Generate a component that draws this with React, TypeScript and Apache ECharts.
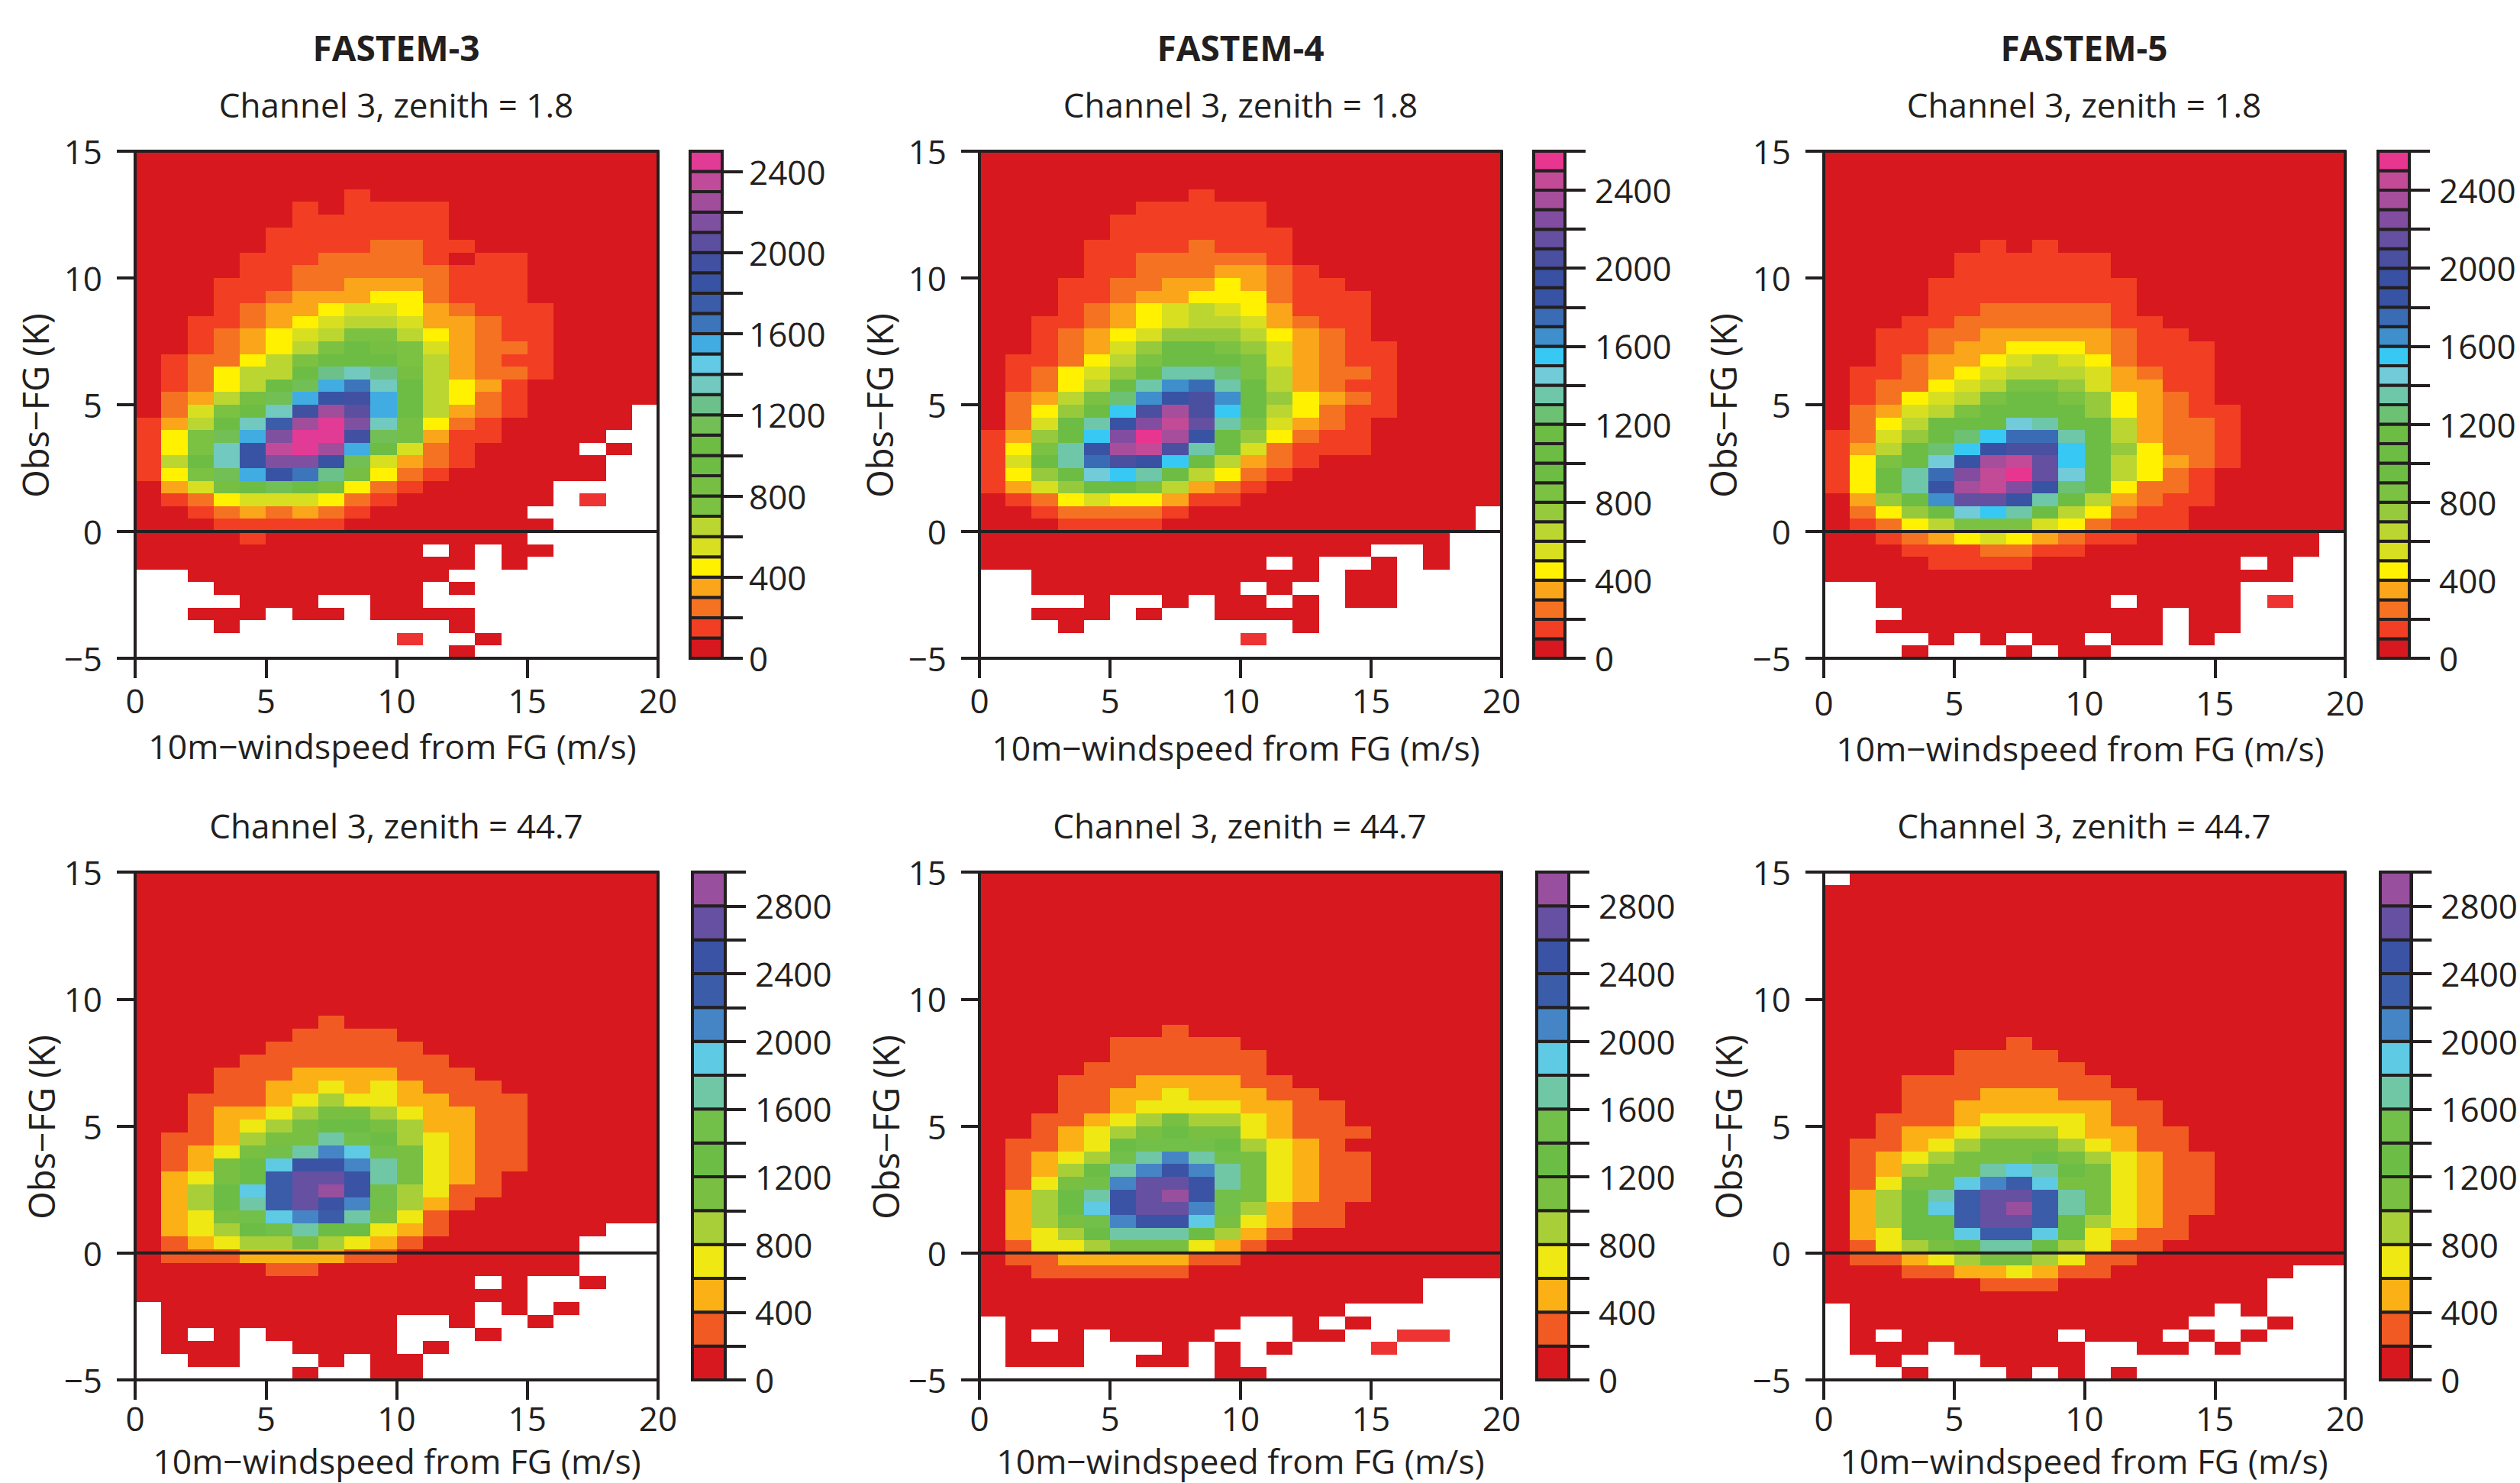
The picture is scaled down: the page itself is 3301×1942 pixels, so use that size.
import React, { useEffect, useRef } from "react";
import * as echarts from "echarts";

// Each string is one row of bins, top row first; each character is the colour class
// of one 1 m/s wide bin: 0-9 a-p are class numbers, "." is an empty bin, "x" a lone bright-red bin.
const fastem3Zenith18 = [
  "00000000000000000000",
  "00000000000000000000",
  "00000000000000000000",
  "00000000100000000000",
  "00000010111100000000",
  "00000011111100000000",
  "00000111111100000000",
  "00000111122110000000",
  "00001112222101100000",
  "00001122222211100000",
  "00011122333211100000",
  "00011233344211100000",
  "00012334554321110000",
  "00112345665332110000",
  "00123456776432110000",
  "00123467987532210000",
  "01224679997632110000",
  "0124669cdc8632210000",
  "012469bfgd9643100000",
  "02368bfijf9642100000",
  "02579djmkf963210000.",
  "1369dhmold842100000.",
  "147bfloojb83110000..",
  "147dinomf95210000.0.",
  "169dillib532100000..",
  "147bfigc8421000000..",
  "03589b9842100000....",
  "0124555421000000.x..",
  "001232321000000.....",
  "0001111100000000....",
  "000010000000000.....",
  "00000000000.0.00....",
  "0000000000000.0.....",
  "..0000000000........",
  "...00000000.0.......",
  "....000..00.........",
  "..000.00.0000.......",
  "...0........0.......",
  "..........x..0......",
  "............0.......",
];

const fastem4Zenith18 = [
  "00000000000000000000",
  "00000000000000000000",
  "00000000000000000000",
  "00000000100000000000",
  "00000011111000000000",
  "00000111111000000000",
  "00000111111100000000",
  "00001111211100000000",
  "00001122222100000000",
  "00001122233210000000",
  "00011223343211000000",
  "00011233444211100000",
  "00012345654311100000",
  "00112345665321100000",
  "00123457776432100000",
  "00123579987532110000",
  "01124689998532110000",
  "0124579ddc8632210000",
  "012469dghd9632110000",
  "02368cgikg9743210000",
  "02479fknkf9642110000",
  "0259dimold8532100000",
  "1379fmpni97421100000",
  "148dinokd95211100000",
  "159dhkjf963210000000",
  "1479efd9642100000000",
  "13579986321000000000",
  "01245443110000000000",
  "0012222100000000000.",
  "0001111000000000000.",
  "000000000000000000..",
  "000000000000000..0..",
  "00000000000.0..0.0..",
  "..00000000000.00....",
  "..00000000.0..00....",
  "....0..0.00.0.00....",
  "..000.0..0000.......",
  "...0........0.......",
  "..........x.........",
  "....................",
];

const fastem5Zenith18 = [
  "00000000000000000000",
  "00000000000000000000",
  "00000000000000000000",
  "00000000000000000000",
  "00000000000000000000",
  "00000000000000000000",
  "00000000000000000000",
  "00000010100000000000",
  "00000111111000000000",
  "00000111111000000000",
  "00001111111100000000",
  "00001111111100000000",
  "00001122222100000000",
  "00011222222110000000",
  "00112233333211000000",
  "00112334443211100000",
  "00123345654211100000",
  "01123456665321100000",
  "01224568875331100000",
  "01245689987432100000",
  "02356899997432110000",
  "0246999ed99632210000",
  "12579cfhhd9632210000",
  "1369cfjkkf9742210000",
  "1489einolf9643210000",
  "149dhmople9642100000",
  "149dinomic9422100000",
  "0379gllid96321100000",
  "02479efd964211000000",
  "01246888542111000000",
  "0012345432110000000.",
  "0001112211000000000.",
  "0000111100000000.0..",
  "000000000000000000..",
  "..00000000000000....",
  "..000000000.0000.x..",
  "...0000000000.00....",
  "..00000000000.00....",
  "....0.0.00.00.0.....",
  "...0...0.00.........",
];

const fastem3Zenith447 = [
  "00000000000000000000",
  "00000000000000000000",
  "00000000000000000000",
  "00000000000000000000",
  "00000000000000000000",
  "00000000000000000000",
  "00000000000000000000",
  "00000000000000000000",
  "00000000000000000000",
  "00000000000000000000",
  "00000000000000000000",
  "00000001000000000000",
  "00000011110000000000",
  "00000111111000000000",
  "00001111111100000000",
  "00011122221110000000",
  "00011223232111000000",
  "00111234332211100000",
  "00122345543221100000",
  "00123456654221100000",
  "01124558764321100000",
  "0123578a975321100000",
  "012569cca85321100000",
  "02356bddc85321000000",
  "02469bdec74311000000",
  "02468bdca74210000000",
  "023579ab853100000000",
  "023467866321000000..",
  "01234454321000000...",
  "01112222110000000...",
  "00000110000000000...",
  "0000000000000.0..0..",
  "000000000000000.....",
  ".000000000000.0.0...",
  ".000000000..0..0....",
  ".0.0.00000...0......",
  ".000..0000.0........",
  "..00...0.00.........",
  "......0..00.........",
];

const fastem4Zenith447 = [
  "00000000000000000000",
  "00000000000000000000",
  "00000000000000000000",
  "00000000000000000000",
  "00000000000000000000",
  "00000000000000000000",
  "00000000000000000000",
  "00000000000000000000",
  "00000000000000000000",
  "00000000000000000000",
  "00000000000000000000",
  "00000000000000000000",
  "00000001000000000000",
  "00000111110000000000",
  "00000111111000000000",
  "00001111111000000000",
  "00011122221100000000",
  "00011223222110000000",
  "00011233332211000000",
  "00112345443211000000",
  "00123456553211100000",
  "01123677764321000000",
  "0123478a875321100000",
  "012468aca85321100000",
  "01357addc85321100000",
  "02468cdec75321100000",
  "02469cdda74211000000",
  "02457acc953211000000",
  "02346888642100000000",
  "01334555321000000000",
  "01122222110000000000",
  "00111111000000000000",
  "00000000000000000...",
  "00000000000000000...",
  "00000000000000......",
  ".000000000..0.0.....",
  ".0.0.0000...00..xx..",
  ".000...0.0.0...x....",
  ".000..00.0..........",
  ".........00.........",
];

const fastem5Zenith447 = [
  ".0000000000000000000",
  "00000000000000000000",
  "00000000000000000000",
  "00000000000000000000",
  "00000000000000000000",
  "00000000000000000000",
  "00000000000000000000",
  "00000000000000000000",
  "00000000000000000000",
  "00000000000000000000",
  "00000000000000000000",
  "00000000000000000000",
  "00000000000000000000",
  "00000001000000000000",
  "00000111100000000000",
  "00000111110000000000",
  "00011111111000000000",
  "00011122211100000000",
  "00011222222110000000",
  "00111233332110000000",
  "00122344432211000000",
  "01123455543211000000",
  "01234555654321100000",
  "01245589865321100000",
  "013559ab955321100000",
  "02468bddb85321100000",
  "02469bdeb85321100000",
  "02466bddb64321000000",
  "023669bb963211000000",
  "01345688643110000000",
  "01123455431100000000",
  "000112232110000000..",
  "00000011100000000...",
  "00000000000000000...",
  ".00000000000000.0...",
  ".0000000000000...0..",
  ".0.000000.000.0.0...",
  ".000.00000..00.0....",
  "..0...0000..........",
  "...0...0.0.0........",
];

const colorsZenith18Short = [
  "#D7181F", "#F23E23", "#F57222", "#FAA51A", "#FFF100", "#D7DF20", "#BCD631", "#7BC142",
  "#76BF43", "#6DBD45", "#6DBD45", "#72BF55", "#6CC18B", "#72C9BF", "#62CAE4", "#40ACE2",
  "#3C75BA", "#3B5CA8", "#3953A4", "#4250A2", "#5D4FA0", "#7F509F", "#A04D9C", "#C14B9B",
  "#E23B96",
];
const colorsZenith18Long = [
  "#D7181F", "#F23E23", "#F57222", "#FAA51A", "#FFF100", "#D7DF20", "#BCD631", "#97C93C",
  "#7BC142", "#6DBD45", "#6DBD45", "#6DBD45", "#6CC173", "#6EC7A8", "#72CBD8", "#38C8F4",
  "#3E8FCB", "#3A6CB5", "#3953A4", "#3A50A2", "#4A4FA0", "#654FA1", "#824DA0", "#A64E9C",
  "#C24A97", "#E8358F",
];
const colorsZenith447 = [
  "#D7181F", "#F15A22", "#FBB116", "#EFE812", "#A9CF38", "#78BF42", "#6CBD45", "#72BF4A",
  "#70C7A6", "#5ECAE4", "#4585C5", "#3B5CA8", "#3B53A4", "#6650A1", "#984F9E",
];
const loneBinColor = "#EE3333";

const xTicks = [0, 5, 10, 15, 20];
const yTicks = [-5, 0, 5, 10, 15];
const barTicks2500 = [0, 200, 400, 600, 800, 1000, 1200, 1400, 1600, 1800, 2000, 2200, 2400];
const barTicks2600 = [...barTicks2500, 2600];
const barTicks3000 = [0, 200, 400, 600, 800, 1000, 1200, 1400, 1600, 1800, 2000, 2200, 2400, 2600, 2800, 3000];
const barLabels2400 = [0, 400, 800, 1200, 1600, 2000, 2400];
const barLabels2800 = [...barLabels2400, 2800];

const XNAME = "10m\u2212windspeed from FG (m/s)";
const YNAME = "Obs\u2212FG (K)";
const INK = "#231F20";
const FONT = "'Open Sans'";
const FS = 44;

const panels = [
  { rows: fastem3Zenith18, colors: colorsZenith18Short, bin: 100, ticks: barTicks2500, labels: barLabels2400, head: "FASTEM-3", sub: "Channel 3, zenith = 1.8",
    l: 177, r: 862, t: 198, b: 862, bl: 904, br: 946, barM: 35, subX: 519, subY: 137, xnX: 514, xnY: 976, ynX: 46, ynY: 531, lblM: 33 },
  { rows: fastem4Zenith18, colors: colorsZenith18Long, bin: 100, ticks: barTicks2600, labels: barLabels2400, head: "FASTEM-4", sub: "Channel 3, zenith = 1.8",
    l: 1283, r: 1967, t: 198, b: 862, bl: 2009, br: 2050, barM: 39, subX: 1625, subY: 137, xnX: 1619, xnY: 978, ynX: 1152, ynY: 531, lblM: 33 },
  { rows: fastem5Zenith18, colors: colorsZenith18Long, bin: 100, ticks: barTicks2600, labels: barLabels2400, head: "FASTEM-5", sub: "Channel 3, zenith = 1.8",
    l: 2389, r: 3072, t: 198, b: 862, bl: 3115, br: 3156, barM: 39, subX: 2730, subY: 137, xnX: 2725, xnY: 979, ynX: 2257, ynY: 531, lblM: 36 },
  { rows: fastem3Zenith447, colors: colorsZenith447, bin: 200, ticks: barTicks3000, labels: barLabels2800, head: "", sub: "Channel 3, zenith = 44.7",
    l: 177, r: 862, t: 1142, b: 1807, bl: 907, br: 950, barM: 39, subX: 519, subY: 1081, xnX: 520, xnY: 1912, ynX: 54, ynY: 1476, lblM: 28 },
  { rows: fastem4Zenith447, colors: colorsZenith447, bin: 200, ticks: barTicks3000, labels: barLabels2800, head: "", sub: "Channel 3, zenith = 44.7",
    l: 1283, r: 1967, t: 1142, b: 1807, bl: 2013, br: 2055, barM: 39, subX: 1624, subY: 1081, xnX: 1625, xnY: 1912, ynX: 1160, ynY: 1476, lblM: 28 },
  { rows: fastem5Zenith447, colors: colorsZenith447, bin: 200, ticks: barTicks3000, labels: barLabels2800, head: "", sub: "Channel 3, zenith = 44.7",
    l: 2389, r: 3072, t: 1142, b: 1807, bl: 3118, br: 3160, barM: 39, subX: 2730, subY: 1081, xnX: 2730, xnY: 1912, ynX: 2264, ynY: 1476, lblM: 28 },
];

function binsOf(rows: string[]) {
  const h = 20 / rows.length;
  const out: number[][] = [];
  rows.forEach((row, k) => {
    for (let j = 0; j < row.length; j++) {
      const c = row[j];
      if (c === ".") continue;
      const level = c === "x" ? -1 : parseInt(c, 36);
      out.push([j, j + 1, 15 - k * h, 15 - (k + 1) * h, level]);
    }
  });
  return out;
}

function buildOption() {
  const grid: any[] = [];
  const xAxis: any[] = [];
  const yAxis: any[] = [];
  const series: any[] = [];
  const graphic: any[] = [];
  const line = { show: true, onZero: false, lineStyle: { color: INK, width: 4 } };
  const tick = (len: number) => ({ show: true, length: len, lineStyle: { color: INK, width: 4 } });
  const text = (x: number, y: number, t: string, extra: any = {}, rotation = 0) =>
    graphic.push({
      type: "text", x, y, rotation, silent: true,
      style: { text: t, align: "center", verticalAlign: "middle", fill: INK, fontFamily: FONT, fontSize: FS, ...extra },
    });

  panels.forEach((p) => {
    const g = grid.length;
    grid.push({ left: p.l, width: p.r - p.l, top: p.t, height: p.b - p.t });
    grid.push({ left: p.bl, width: p.br - p.bl, top: p.t, height: p.b - p.t });
    const gx = xAxis.length;
    const gy = yAxis.length;
    xAxis.push({
      gridIndex: g, type: "value", min: 0, max: 20, interval: 5, position: "bottom", z: 10,
      axisLine: line, axisTick: tick(26), splitLine: { show: false },
      axisLabel: { color: INK, fontFamily: FONT, fontSize: FS, margin: p.lblM, customValues: xTicks },
    });
    xAxis.push({
      gridIndex: g, type: "value", min: 0, max: 20, position: "top", z: 10,
      axisLine: line, axisTick: { show: false }, axisLabel: { show: false }, splitLine: { show: false },
    });
    xAxis.push({ gridIndex: g + 1, type: "value", min: 0, max: 1, show: false });
    yAxis.push({
      gridIndex: g, type: "value", min: -5, max: 15, interval: 5, position: "left", z: 10,
      axisLine: line, axisTick: tick(24), splitLine: { show: false },
      axisLabel: {
        color: INK, fontFamily: FONT, fontSize: FS, margin: 43, customValues: yTicks,
        formatter: (v: number) => (v < 0 ? "\u2212" + Math.abs(v) : String(v)),
      },
    });
    yAxis.push({
      gridIndex: g, type: "value", min: -5, max: 15, position: "right", z: 10,
      axisLine: line, axisTick: { show: false }, axisLabel: { show: false }, splitLine: { show: false },
    });
    yAxis.push({
      gridIndex: g + 1, type: "value", min: 0, max: p.colors.length * p.bin, position: "right", z: 10,
      axisLine: line, axisTick: { ...tick(27), customValues: p.ticks }, splitLine: { show: false },
      axisLabel: {
        color: INK, fontFamily: FONT, fontSize: FS, margin: p.barM, padding: [9, 0, 0, 0], customValues: p.labels,
        formatter: (v: number) => String(v),
      },
    });

    series.push({
      type: "custom", xAxisIndex: gx, yAxisIndex: gy, silent: true, z: 2, progressive: 0,
      encode: { x: [0, 1], y: [2, 3] },
      data: binsOf(p.rows),
      renderItem: (_: any, api: any) => {
        const a = api.coord([api.value(0), api.value(2)]);
        const b = api.coord([api.value(1), api.value(3)]);
        const x = Math.round(a[0]);
        const y = Math.round(a[1]);
        const level = api.value(4);
        return {
          type: "rect",
          shape: { x, y, width: Math.round(b[0]) - x, height: Math.round(b[1]) - y },
          style: { fill: level < 0 ? loneBinColor : p.colors[level] },
        };
      },
    });
    series.push({
      type: "line", xAxisIndex: gx, yAxisIndex: gy, silent: true, z: 11, symbol: "none",
      data: [[0, 0], [20, 0]], lineStyle: { color: INK, width: 4 },
    });
    series.push({
      type: "custom", xAxisIndex: gx + 2, yAxisIndex: gy + 2, silent: true, z: 2, progressive: 0,
      encode: { x: 0, y: [1, 2] },
      data: p.colors.map((_, lvl) => [0, lvl * p.bin, (lvl + 1) * p.bin, lvl]),
      renderItem: (_: any, api: any) => {
        const a = api.coord([0, api.value(2)]);
        const b = api.coord([1, api.value(1)]);
        return {
          type: "rect",
          shape: { x: a[0], y: a[1], width: b[0] - a[0], height: b[1] - a[1] },
          style: { fill: p.colors[api.value(3)], stroke: INK, lineWidth: 4 },
        };
      },
    });

    if (p.head) text(p.subX, 62, p.head, { fontWeight: "bold", fontSize: 46 });
    text(p.subX, p.subY, p.sub);
    text(p.xnX, p.xnY, XNAME, { fontSize: 44.5 });
    text(p.ynX, p.ynY, YNAME, { fontSize: 47 }, Math.PI / 2);
  });

  return { animation: false, backgroundColor: "#ffffff", grid, xAxis, yAxis, series, graphic };
}

export default function App() {
  const ref = useRef<HTMLDivElement>(null);
  useEffect(() => {
    const chart = echarts.init(ref.current!, undefined, { renderer: "svg" });
    chart.setOption(buildOption());
    return () => chart.dispose();
  }, []);
  return <div ref={ref} style={{ position: "absolute", left: 0, top: 0, width: 3301, height: 1942 }} />;
}
